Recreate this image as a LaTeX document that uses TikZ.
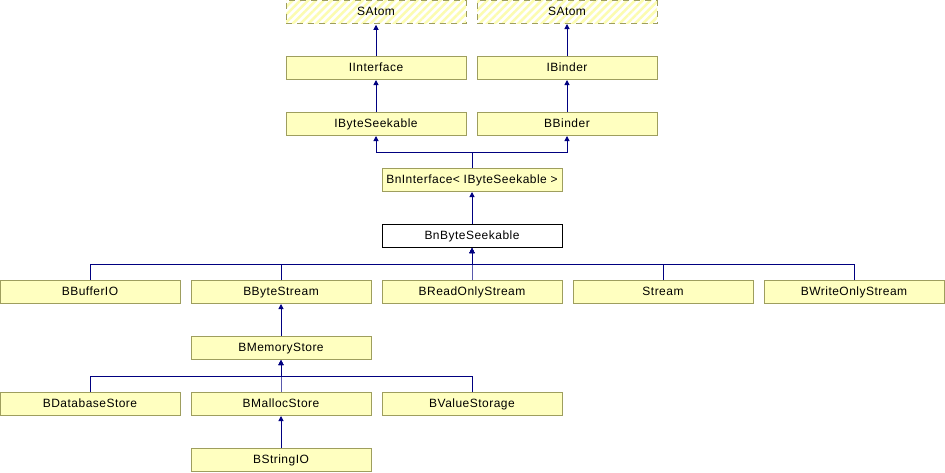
\documentclass[tikz,border=0pt]{standalone}
\usepackage{fontspec}
\setmainfont{Liberation Sans}[LetterSpace=4]
\usetikzlibrary{arrows.meta,patterns.meta}
\definecolor{boxfill}{HTML}{FFFFC0}
\definecolor{stripe}{HTML}{FCFCB0}
\definecolor{boxline}{HTML}{9E9E5E}
\definecolor{edgecol}{HTML}{000080}
\tikzset{
  cls/.style={draw=boxline, fill=boxfill, line width=1pt, minimum width=180pt, minimum height=23pt, inner sep=0pt, text height=8.5pt, text depth=2.5pt, font=\fontsize{12}{14}\selectfont},
  cur/.style={cls, draw=black, fill=white},
  ext/.style={cls, fill=none, preaction={fill=white}, pattern={Lines[angle=45,distance=5.5pt,line width=2.5pt]}, pattern color=stripe, dash pattern=on 6pt off 5pt},
  inh/.style={draw=edgecol, line width=1pt, -{Triangle[length=5pt,width=5pt]}},
}
\begin{document}
\begin{tikzpicture}[x=1pt,y=-1pt]
\useasboundingbox (0,0) rectangle (945,472);
\node[ext] (satom1) at (376,12) {SAtom};
\node[ext] (satom2) at (567,12) {SAtom};
\node[cls] (iinterface) at (376,68) {IInterface};
\node[cls] (ibinder) at (567,68) {IBinder};
\node[cls] (ibyteseekable) at (376,124) {IByteSeekable};
\node[cls] (bbinder) at (567,124) {BBinder};
\node[cls] (bninterface) at (472,180) {BnInterface< IByteSeekable >};
\node[cur] (bnbyteseekable) at (472,236) {BnByteSeekable};
\node[cls] (bbufferio) at (90,292) {BBufferIO};
\node[cls] (bbytestream) at (281,292) {BByteStream};
\node[cls] (breadonly) at (472,292) {BReadOnlyStream};
\node[cls] (stream) at (663,292) {Stream};
\node[cls] (bwriteonly) at (854,292) {BWriteOnlyStream};
\node[cls] (bmemorystore) at (281,348) {BMemoryStore};
\node[cls] (bdatabasestore) at (90,404) {BDatabaseStore};
\node[cls] (bmallocstore) at (281,404) {BMallocStore};
\node[cls] (bvaluestorage) at (472,404) {BValueStorage};
\node[cls] (bstringio) at (281,460) {BStringIO};
\draw[inh] (iinterface) -- (satom1);
\draw[inh] (ibinder) -- (satom2);
\draw[inh] (ibyteseekable) -- (iinterface);
\draw[inh] (bbinder) -- (ibinder);
\coordinate (j1) at (472,152);
\draw[inh] (bninterface.north) -- (j1) -| (ibyteseekable.south);
\draw[inh] (bninterface.north) -- (j1) -| (bbinder.south);
\draw[inh] (bnbyteseekable) -- (bninterface);
\coordinate (j2) at (472,264);
\foreach \n in {bbufferio,bbytestream,breadonly,stream,bwriteonly}
  \draw[inh] (\n.north) |- (j2) -- (bnbyteseekable.south);
\draw[inh] (bmemorystore) -- (bbytestream);
\coordinate (j3) at (281,376);
\foreach \n in {bdatabasestore,bmallocstore,bvaluestorage}
  \draw[inh] (\n.north) |- (j3) -- (bmemorystore.south);
\draw[inh] (bstringio) -- (bmallocstore);
\end{tikzpicture}
\end{document}
